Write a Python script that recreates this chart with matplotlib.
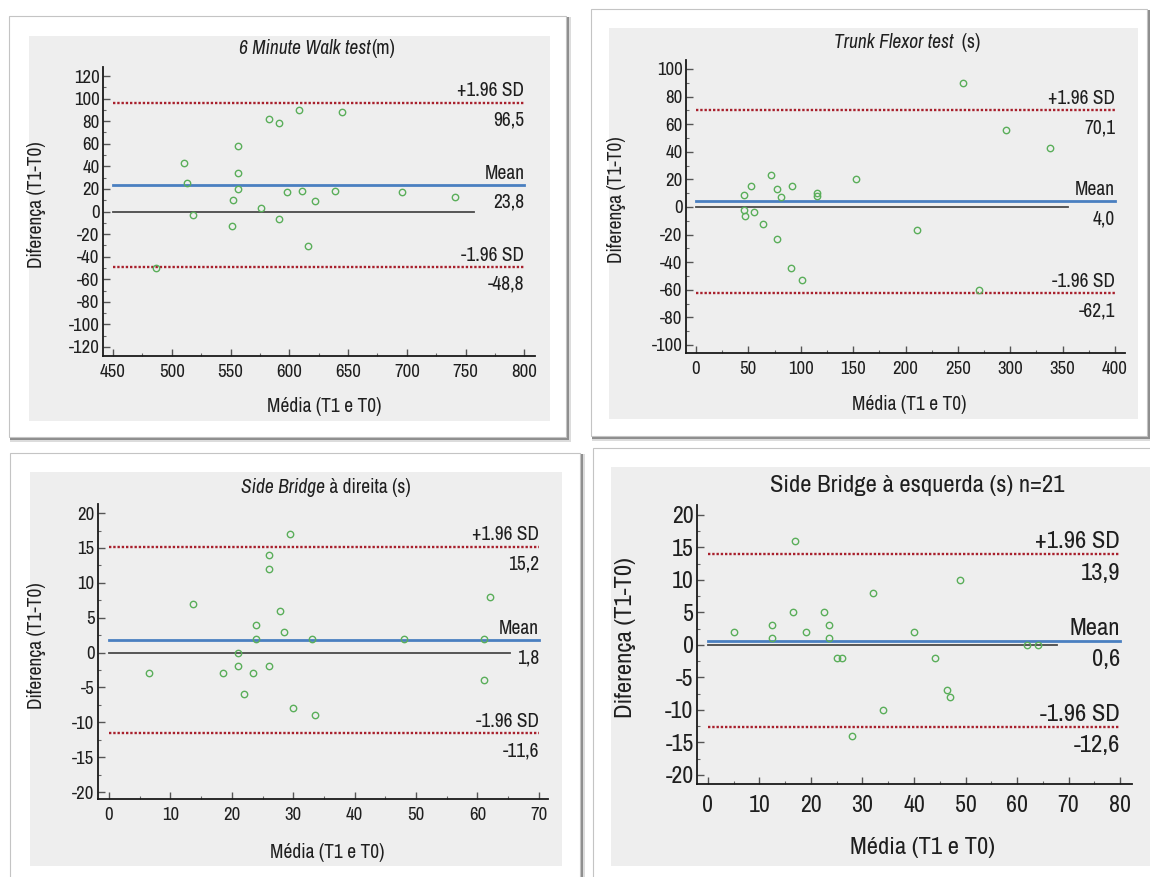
import matplotlib.pyplot as plt
from matplotlib.patches import Rectangle
from matplotlib.ticker import MultipleLocator
import numpy as np

plt.rcParams['font.family'] = ['Archivo Narrow', 'Liberation Sans', 'DejaVu Sans']
plt.rcParams['axes.unicode_minus'] = False

# ---- data ----
walk_x = [487, 510, 513, 518, 551, 552, 556, 556, 556, 576, 583, 591, 591,
          598, 608, 611, 616, 622, 639, 645, 696, 741]
walk_y = [-50, 43, 25, -3, -13, 10, 58, 34, 20, 3, 82, 78, -7,
          17, 90, 18, -31, 9.5, 18, 88, 17, 13]

trunk_x = [45.5, 45.5, 47, 53, 55, 64, 71.5, 77, 77.5, 81.5, 90.5, 92, 101.5,
           115.5, 115.5, 153, 211, 255, 270.5, 296, 338]
trunk_y = [9, -2, -6.5, 15, -3.5, -12.5, 23, 13, -23.5, 7.5, -44.5, 15.5, -53,
           10, 8, 20, -16.5, 90, -60.5, 55.5, 43]

right_x = [6.5, 13.6, 18.5, 21, 21, 22, 23.4, 24, 24, 26, 26, 26, 27.9,
           28.5, 29.4, 30, 33, 33.5, 48, 61, 61, 62]
right_y = [-3, 7, -3, 0, -2, -6, -3, 4, 2, 14, 12, -2, 6,
           3, 17, -8, 2, -9, 2, 2, -4, 8]

left_x = [5, 12.5, 12.5, 16.5, 17, 19, 22.5, 23.5, 23.5, 25, 26, 28, 32,
          34, 40, 44, 46.5, 47, 49, 62, 64]
left_y = [2, 3, 1, 5, 16, 2, 5, 3, 1, -2, -2, -14, 8,
          -10, 2, -2, -7, -8, 10, 0, 0]

upper_sd = [96.5, 70.1, 15.2, 13.9]
mean_diff = [23.8, 4.0, 1.8, 0.6]
lower_sd = [-48.8, -62.1, -11.6, -12.6]
upper_txt = ['96,5', '70,1', '15,2', '13,9']
mean_txt = ['23,8', '4,0', '1,8', '0,6']
lower_txt = ['-48,8', '-62,1', '-11,6', '-12,6']
zero_line_end = [757, 355.5, 65.3, 67.7]

titles = [[('6 Minute Walk test', 'italic'), ('(m)', 'normal')],
          [('Trunk Flexor test', 'italic'), ('  (s)', 'normal')],
          [('Side Bridge', 'italic'), (' à direita (s)', 'normal')],
          [('Side Bridge à esquerda (s) n=21', 'normal')]]

xticks = [np.arange(450, 801, 50), np.arange(0, 401, 50),
          np.arange(0, 71, 10), np.arange(0, 81, 10)]
yticks = [np.arange(-120, 121, 20), np.arange(-100, 101, 20),
          np.arange(-20, 21, 5), np.arange(-20, 21, 5)]
xminor = [25, 25, 5, 5]
yminor = [10, 10, 2.5, 2.5]
xlims = [(441.5, 809), (-9.5, 409.5), (-1.8, 71.5), (-2.1, 82.3)]
ylims = [(-128, 128), (-105.8, 106.5), (-21, 21.3), (-21.4, 21.5)]

xs = [walk_x, trunk_x, right_x, left_x]
ys = [walk_y, trunk_y, right_y, left_y]

# ---- layout in pixels (image 1150 x 877) ----
W, H = 1150, 877
cards = [(9, 16, 566, 437), (591, 9, 1147, 436), (10, 453, 580, 882), (593, 448, 1155, 882)]
grays = [(29, 36, 550, 421), (609, 28, 1138, 419), (30, 472, 562, 866), (611, 467, 1150, 866)]
boxes = [(103, 67, 535, 356), (686, 60, 1125, 353), (98, 504, 548, 799), (697, 505, 1132, 784)]
title_pos = [(317, 49), (907, 42), (326, 487), (917, 485)]
xlabel_pos = [(324, 406), (909, 405), (327, 852), (922, 847)]
ylabel_pos = [(37, 205), (617, 200), (37, 646), (625, 638)]
scale = [1.0, 1.0, 1.0, 1.27]

GRAY = '#eeeeee'
TXT = '#1f1f1f'


def fig_rect(x0, y0, x1, y1, **kw):
    return Rectangle((x0 / W, 1 - y1 / H), (x1 - x0) / W, (y1 - y0) / H,
                     transform=fig.transFigure, **kw)


fig = plt.figure(figsize=(W / 100, H / 100), dpi=100)
fig.patch.set_facecolor('white')

# cards with a soft shadow
for (x0, y0, x1, y1), (g0, h0, g1, h1) in zip(cards, grays):
    fig.patches.append(fig_rect(x0 + 1, y0 + 1, x1 + 5, y1 + 5, facecolor='#dcdcdc',
                                edgecolor='none', zorder=-30))
    fig.patches.append(fig_rect(x0 + 1, y0 + 1, x1 + 3, y1 + 3, facecolor='#8e8e8e',
                                edgecolor='none', zorder=-29))
    fig.patches.append(fig_rect(x0, y0, x1, y1, facecolor='white',
                                edgecolor='#c4c4c4', linewidth=0.8, zorder=-28))
    fig.patches.append(fig_rect(g0, h0, g1, h1, facecolor=GRAY,
                                edgecolor='none', zorder=-27))

renderer = fig.canvas.get_renderer()

for i in range(4):
    s = scale[i]
    fs_tick = 13.5 * s
    fs_lab = 14 * s
    x0, y0, x1, y1 = boxes[i]
    ax = fig.add_axes([x0 / W, 1 - y1 / H, (x1 - x0) / W, (y1 - y0) / H])
    ax.patch.set_visible(False)
    for side in ['top', 'right']:
        ax.spines[side].set_visible(False)
    for side in ['left', 'bottom']:
        ax.spines[side].set_linewidth(1.3)
        ax.spines[side].set_color('#1a1a1a')

    ax.set_xlim(*xlims[i])
    ax.set_ylim(*ylims[i])
    ax.set_xticks(xticks[i])
    ax.set_yticks(yticks[i])
    ax.xaxis.set_minor_locator(MultipleLocator(xminor[i]))
    ax.yaxis.set_minor_locator(MultipleLocator(yminor[i]))
    ax.tick_params(which='major', direction='in', length=5, width=1, color='#555555',
                   labelsize=fs_tick, labelcolor=TXT)
    ax.tick_params(which='minor', direction='in', length=2.5, width=0.8, color='#666666')
    ax.tick_params(axis='x', which='major', pad=6 * s)
    ax.tick_params(axis='y', which='major', pad=2.5)

    # zero line, mean and limits of agreement
    xa, xb = xticks[i][0], xticks[i][-1]
    ax.plot([xa, zero_line_end[i]], [0, 0], color='#4a4a4a', lw=1.3, zorder=2)
    ax.plot([xa, xb], [mean_diff[i]] * 2, color='#4a7fc0', lw=2.0, zorder=2)
    for v in (upper_sd[i], lower_sd[i]):
        ax.plot([xa, xb], [v, v], color='#a8202c', lw=1.7, ls=(0, (1, 0.8)), zorder=2)

    ax.plot(xs[i], ys[i], ls='none', marker='o', ms=4.6, mfc='none', mec='#5aae5a',
            mew=1.0, zorder=3)

    for v, top, bot in [(upper_sd[i], '+1.96 SD', upper_txt[i]),
                        (mean_diff[i], 'Mean', mean_txt[i]),
                        (lower_sd[i], '-1.96 SD', lower_txt[i])]:
        ax.annotate(top, xy=(xb, v), xytext=(0, 1.5), textcoords='offset points',
                    ha='right', va='bottom', fontsize=fs_lab, color=TXT)
        ax.annotate(bot, xy=(xb, v), xytext=(0, -6), textcoords='offset points',
                    ha='right', va='top', fontsize=fs_lab, color=TXT)

    fig.text(xlabel_pos[i][0] / W, 1 - xlabel_pos[i][1] / H, 'Média (T1 e T0)',
             ha='center', va='center', fontsize=fs_lab, color=TXT)
    fig.text(ylabel_pos[i][0] / W, 1 - ylabel_pos[i][1] / H, 'Diferença (T1-T0)',
             ha='center', va='center', rotation=90, fontsize=fs_lab, color=TXT)

    # title made of italic and upright pieces, centred as a whole
    parts = []
    for txt, style in titles[i]:
        parts.append(fig.text(0, 1 - title_pos[i][1] / H, txt, ha='left', va='center',
                              fontsize=fs_lab, style=style, color=TXT))
    widths = [p.get_window_extent(renderer).width for p in parts]
    xpos = title_pos[i][0] - sum(widths) / 2
    for p, w in zip(parts, widths):
        p.set_x(xpos / W)
        xpos += w

fig.savefig('out.png', dpi=100)
